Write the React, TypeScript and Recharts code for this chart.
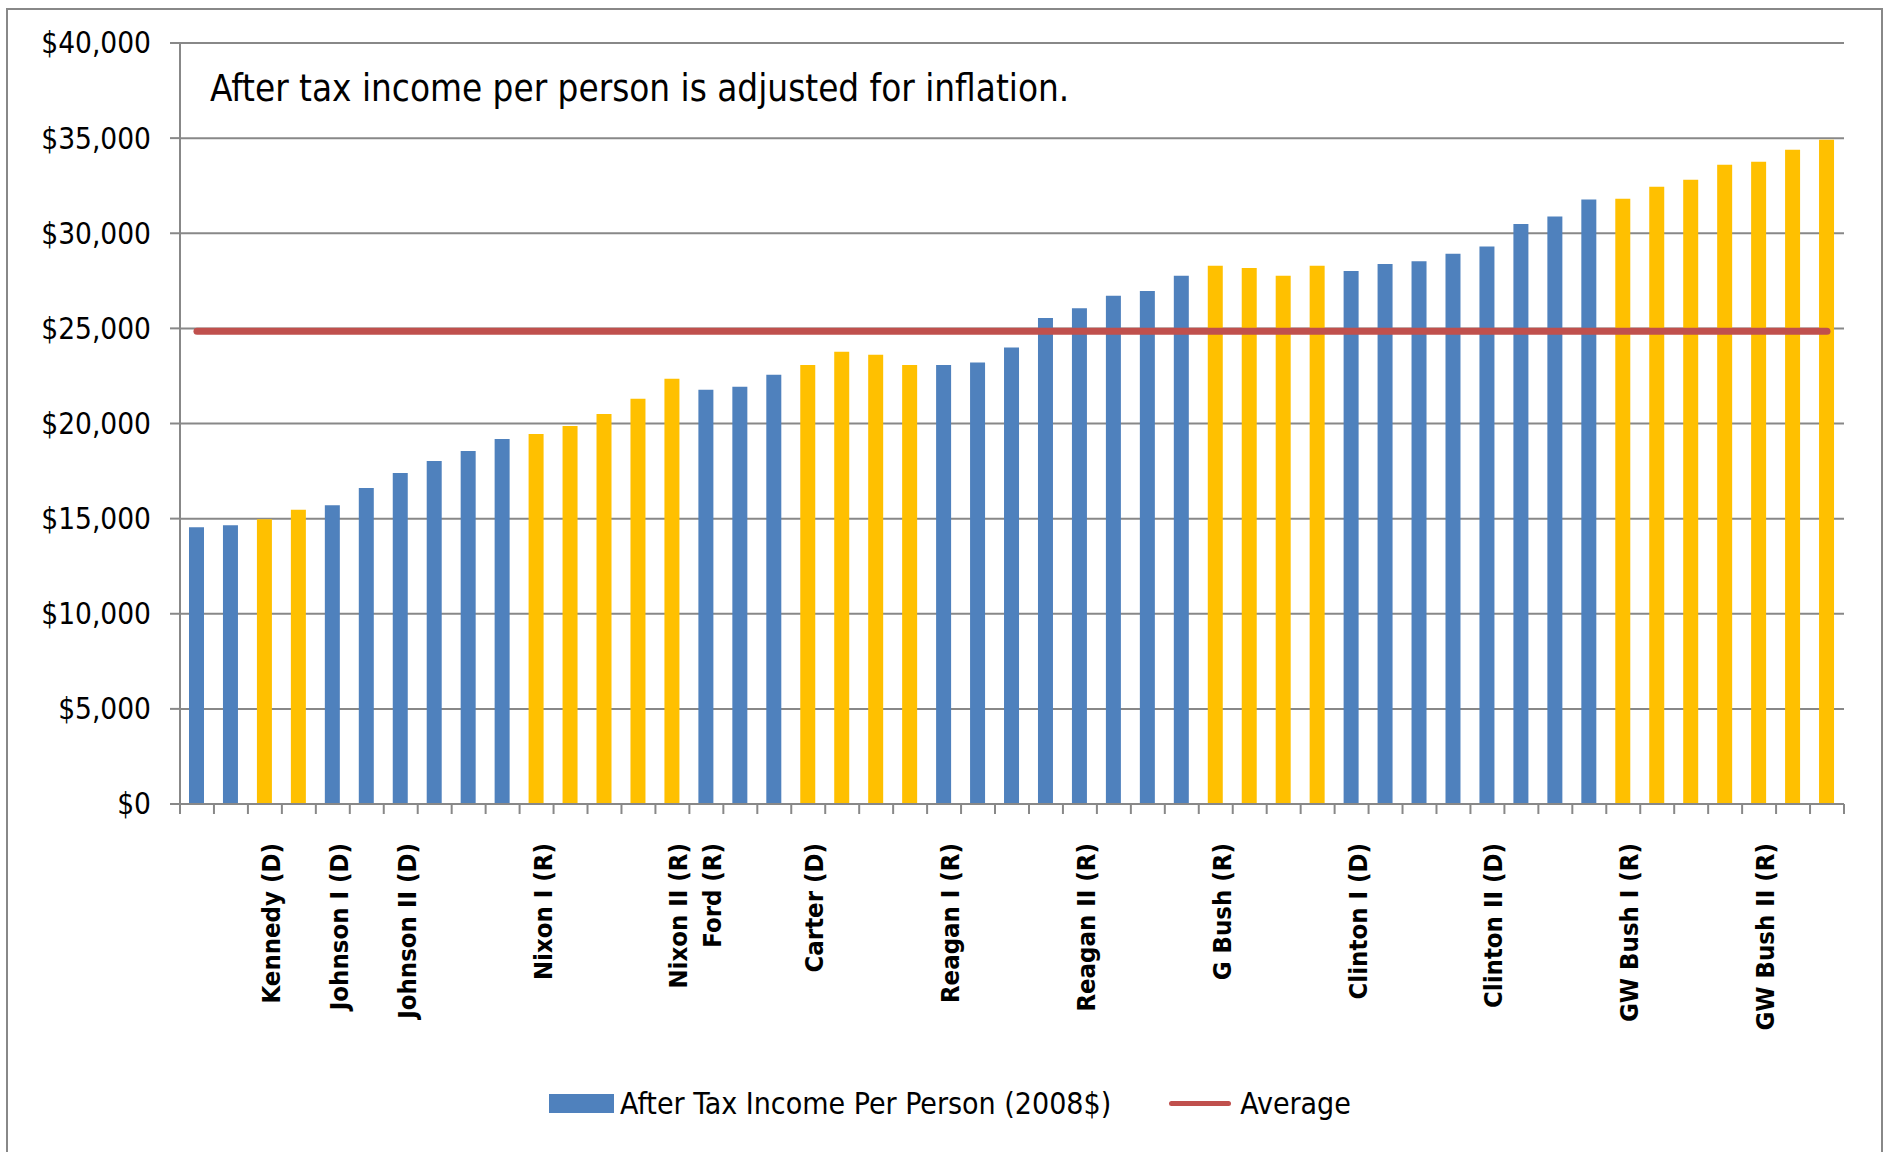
import {
  ComposedChart,
  Bar,
  Line,
  Cell,
  XAxis,
  YAxis,
  CartesianGrid,
  Legend,
} from "recharts";

const years = [
  1959, 1960, 1961, 1962, 1963, 1964, 1965, 1966, 1967, 1968,
  1969, 1970, 1971, 1972, 1973, 1974, 1975, 1976, 1977, 1978,
  1979, 1980, 1981, 1982, 1983, 1984, 1985, 1986, 1987, 1988,
  1989, 1990, 1991, 1992, 1993, 1994, 1995, 1996, 1997, 1998,
  1999, 2000, 2001, 2002, 2003, 2004, 2005, 2006, 2007,
];

const income = [
  14550, 14650, 14970, 15460, 15700, 16610, 17400, 18030, 18560, 19190,
  19450, 19870, 20500, 21300, 22350, 21780, 21930, 22560, 23080, 23770,
  23610, 23080, 23080, 23200, 24000, 25550, 26060, 26710, 26970, 27760,
  28290, 28180, 27760, 28290, 28010, 28390, 28530, 28920, 29300, 30480,
  30880, 31770, 31810, 32440, 32810, 33600, 33760, 34390, 34910,
];

// which colour group each year belongs to
const shade = [
  "b", "b", "y", "y", "b", "b", "b", "b", "b", "b",
  "y", "y", "y", "y", "y", "b", "b", "b", "y", "y",
  "y", "y", "b", "b", "b", "b", "b", "b", "b", "b",
  "y", "y", "y", "y", "b", "b", "b", "b", "b", "b",
  "b", "b", "y", "y", "y", "y", "y", "y", "y",
];

const termLabels = [
  "", "", "Kennedy (D)", "", "Johnson I (D)", "", "Johnson II (D)", "", "", "",
  "Nixon I (R)", "", "", "", "Nixon II (R)", "Ford (R)", "", "", "Carter (D)", "",
  "", "", "Reagan I (R)", "", "", "", "Reagan II (R)", "", "", "",
  "G Bush (R)", "", "", "", "Clinton I (D)", "", "", "", "Clinton II (D)", "",
  "", "", "GW Bush I (R)", "", "", "", "GW Bush II (R)", "", "",
];

const average = 24850;

const yTicks = [0, 5000, 10000, 15000, 20000, 25000, 30000, 35000, 40000];

const BLUE = "#4F81BD";
const GOLD = "#FFC000";
const RED = "#C0504D";
const GRAY = "#888888";
const FONT = "'DejaVu Sans Condensed', 'DejaVu Sans', sans-serif";

const W = 1887;
const H = 1152;
const PLOT_LEFT = 180;
const PLOT_RIGHT = 43;
const STEP = (W - PLOT_LEFT - PLOT_RIGHT) / years.length;

const data = years.map((year, i) => ({
  year,
  income: income[i],
  average,
  label: termLabels[i],
  shade: shade[i],
}));

function TermTick(props: any) {
  const { x, y, index } = props;
  const label = termLabels[index];
  const left = x - STEP / 2;
  return (
    <g>
      <line x1={left} x2={left} y1={y} y2={y + 10} stroke={GRAY} strokeWidth={2} />
      {index === years.length - 1 && (
        <line
          x1={x + STEP / 2}
          x2={x + STEP / 2}
          y1={y}
          y2={y + 10}
          stroke={GRAY}
          strokeWidth={2}
        />
      )}
      {label && (
        <text
          transform={`translate(${x + 15},${y + 39}) rotate(-90)`}
          textAnchor="end"
          fontFamily={FONT}
          fontWeight="bold"
          fontSize={25.5}
          fill="#000"
        >
          {label}
        </text>
      )}
    </g>
  );
}

function LegendBox() {
  return (
    <div
      style={{
        display: "flex",
        alignItems: "center",
        marginLeft: 549,
        fontFamily: FONT,
        fontSize: 30,
        color: "#000",
      }}
    >
      <div style={{ width: 65, height: 19, background: BLUE }} />
      <span style={{ marginLeft: 6 }}>After Tax Income Per Person (2008$)</span>
      <div
        style={{
          width: 62,
          height: 5,
          background: RED,
          borderRadius: 3,
          marginLeft: 58,
        }}
      />
      <span style={{ marginLeft: 9 }}>Average</span>
    </div>
  );
}

export default function App() {
  return (
    <div style={{ position: "absolute", left: 0, top: 0, width: W, height: H, overflow: "hidden", background: "#fff" }}>
      <div
        style={{
          position: "absolute",
          left: 6,
          top: 8,
          width: 1873,
          height: 1170,
          border: `2px solid ${GRAY}`,
        }}
      />
      <ComposedChart
        width={W}
        height={H}
        data={data}
        margin={{ top: 43, right: PLOT_RIGHT, left: 80, bottom: 48 }}
        barSize={15}
      >
        <CartesianGrid vertical={false} stroke={GRAY} strokeWidth={2} />
        <XAxis
          dataKey="year"
          height={300}
          interval={0}
          tickSize={0}
          tickMargin={0}
          tickLine={false}
          axisLine={{ stroke: GRAY, strokeWidth: 2 }}
          tick={<TermTick />}
        />
        <YAxis
          width={100}
          domain={[0, 40000]}
          ticks={yTicks}
          tickFormatter={(v) => `$${Number(v).toLocaleString("en-US")}`}
          tick={{ fill: "#000", fontSize: 29.5, fontFamily: FONT }}
          tickSize={10}
          tickMargin={19}
          tickLine={{ stroke: GRAY, strokeWidth: 2 }}
          axisLine={{ stroke: GRAY, strokeWidth: 2 }}
        />
        <Bar dataKey="income" isAnimationActive={false}>
          {data.map((d) => (
            <Cell key={d.year} fill={d.shade === "b" ? BLUE : GOLD} />
          ))}
        </Bar>
        <Line
          dataKey="average"
          stroke={RED}
          strokeWidth={7}
          strokeLinecap="round"
          dot={false}
          activeDot={false}
          isAnimationActive={false}
        />
        <Legend
          verticalAlign="middle"
          align="center"
          layout="horizontal"
          wrapperStyle={{ top: 1086, left: 0, width: W }}
          content={() => <LegendBox />}
        />
      </ComposedChart>
      <svg
        width={W}
        height={H}
        style={{ position: "absolute", left: 0, top: 0, pointerEvents: "none" }}
      >
        <text x={210} y={101} fontFamily={FONT} fontSize={36.5} fill="#000">
          After tax income per person is adjusted for inflation.
        </text>
      </svg>
    </div>
  );
}
